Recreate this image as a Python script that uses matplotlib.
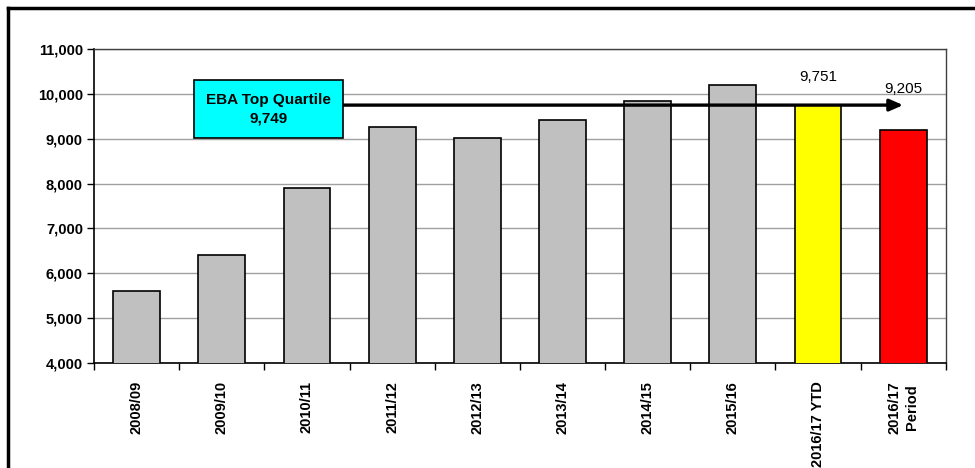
import numpy as np
import matplotlib.pyplot as plt
from matplotlib.lines import Line2D

plt.rcParams['font.family'] = ['Liberation Sans', 'DejaVu Sans']

years = ["2008/09", "2009/10", "2010/11", "2011/12", "2012/13", "2013/14",
         "2014/15", "2015/16", "2016/17 YTD", "2016/17\nPeriod"]
values = [5600, 6410, 7900, 9260, 9020, 9420, 9840, 10200, 9751, 9205]
colors = ["#c0c0c0"] * 8 + ["#ffff00", "#ff0000"]
top_quartile = 9749

fig = plt.figure(figsize=(9.75, 4.68), dpi=100)
ax = fig.add_axes([0.0964, 0.2244, 0.8736, 0.6709])

x = np.arange(len(years))
ax.bar(x, values, width=0.55, color=colors, edgecolor="black", linewidth=1.2, zorder=3)

ax.set_xlim(-0.5, len(years) - 0.5)
ax.set_ylim(4000, 11000)
ax.set_yticks(np.arange(4000, 11001, 1000))
ax.set_yticklabels(["{:,}".format(v) for v in range(4000, 11001, 1000)],
                   fontsize=10.5, fontweight="bold")
ax.yaxis.grid(True, color="#a0a0a0", linewidth=1, zorder=0)

# category ticks sit on the boundaries, labels in the middle
ax.set_xticks(np.arange(-0.5, len(years), 1.0))
ax.set_xticklabels([])
ax.set_xticks(x, minor=True)
ax.set_xticklabels(years, minor=True, rotation=90, fontsize=10.5,
                   fontweight="bold", va="top", ha="center", linespacing=1.35)
ax.tick_params(axis="x", which="minor", length=0, pad=13)
ax.tick_params(axis="x", which="major", length=5, width=1, direction="out")
ax.tick_params(axis="y", length=5, width=1, direction="out", pad=3)

for side in ["left", "bottom"]:
    ax.spines[side].set_color("black")
    ax.spines[side].set_linewidth(1.2)
for side in ["top", "right"]:
    ax.spines[side].set_color("#404040")
    ax.spines[side].set_linewidth(1.0)

# value labels on the 2016/17 bars
ax.annotate("{:,}".format(values[8]), (x[8], values[8]), xytext=(0, 15),
            textcoords="offset points", ha="center", va="bottom", fontsize=11)
ax.annotate("{:,}".format(values[9]), (x[9], values[9]), xytext=(0, 24),
            textcoords="offset points", ha="center", va="bottom", fontsize=11)

# top quartile arrow and box
ax.annotate("", xy=(9.0, top_quartile), xytext=(2.42, top_quartile),
            arrowprops=dict(arrowstyle="-|>,head_length=0.8,head_width=0.35",
                            color="black", lw=2.4, shrinkA=0, shrinkB=0),
            zorder=5)
box = plt.Rectangle((0.67, 9010), 1.75, 1300, facecolor="#00ffff",
                    edgecolor="black", linewidth=1.2, zorder=6)
ax.add_patch(box)
ax.text(0.67 + 1.75 / 2, 9010 + 650, "EBA Top Quartile\n{:,}".format(top_quartile),
        ha="center", va="center", fontsize=11, fontweight="bold",
        linespacing=1.45, zorder=7)

# outer frame around the chart
fig.add_artist(Line2D([8 / 975, 8 / 975], [0, 1 - 8 / 468], color="black",
                      linewidth=2.5, transform=fig.transFigure))
fig.add_artist(Line2D([8 / 975, 1], [1 - 8 / 468, 1 - 8 / 468], color="black",
                      linewidth=2.5, transform=fig.transFigure))

fig.savefig("out.png", dpi=100)
